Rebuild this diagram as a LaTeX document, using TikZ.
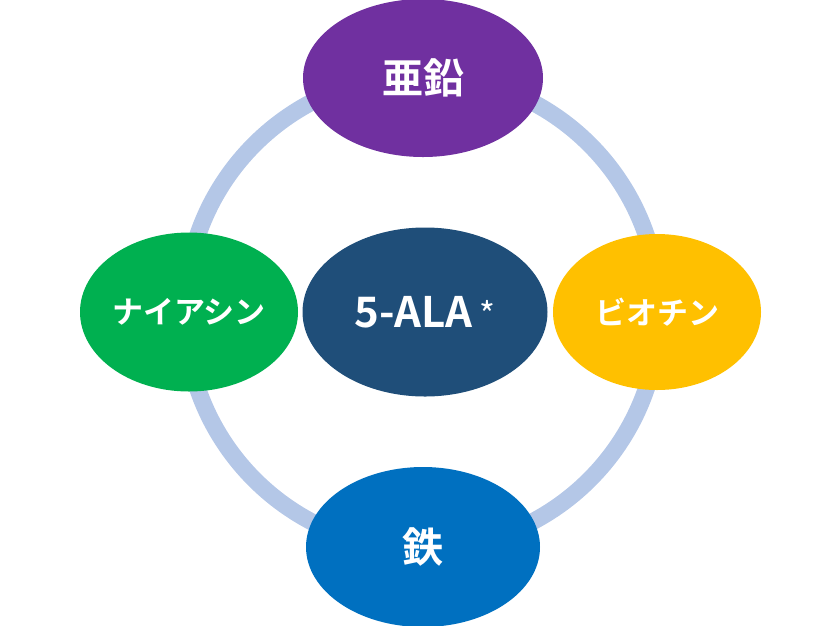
\documentclass[tikz,border=0pt]{standalone}
\usepackage{fontspec}
\newfontfamily\jpfont{Noto Sans CJK JP}[BoldFont={Noto Sans CJK JP Bold}]
\usetikzlibrary{shapes.geometric}
\definecolor{ringblue}{HTML}{B4C7E7}
\definecolor{zinccol}{HTML}{7030A0}
\definecolor{niacol}{HTML}{00B050}
\definecolor{alacol}{HTML}{1F4E79}
\definecolor{biocol}{HTML}{FFC000}
\definecolor{ironcol}{HTML}{0070C0}

\begin{document}
\begin{tikzpicture}[x=1pt,y=-1pt,
  blob/.style={ellipse, inner sep=0pt, text=white},
  kanji/.style={font=\jpfont\bfseries\fontsize{41}{48}\selectfont},
  kana/.style={font=\jpfont\bfseries\fontsize{31}{38}\selectfont}]
\useasboundingbox (0,0) rectangle (840,625);
\draw[ringblue, line width=17pt] (422,312) circle [radius=237];
\node[blob, kanji, fill=zinccol, minimum width=240pt, minimum height=158pt] (zinc) at (423,78) {亜鉛};
\node[blob, kana, fill=niacol, minimum width=218pt, minimum height=159pt] (niacin) at (189,312) {ナイアシン};
\node[blob, fill=alacol, minimum width=245pt, minimum height=169pt, font=\jpfont\bfseries\fontsize{42}{48}\selectfont] (ala) at (425,312) {5-ALA\,{\mdseries\fontsize{34}{36}\selectfont *}};
\node[blob, kana, fill=biocol, minimum width=208pt, minimum height=156pt] (biotin) at (657,312) {ビオチン};
\node[blob, kanji, fill=ironcol, minimum width=234pt, minimum height=160pt] (iron) at (423,547) {鉄};
\end{tikzpicture}
\end{document}
